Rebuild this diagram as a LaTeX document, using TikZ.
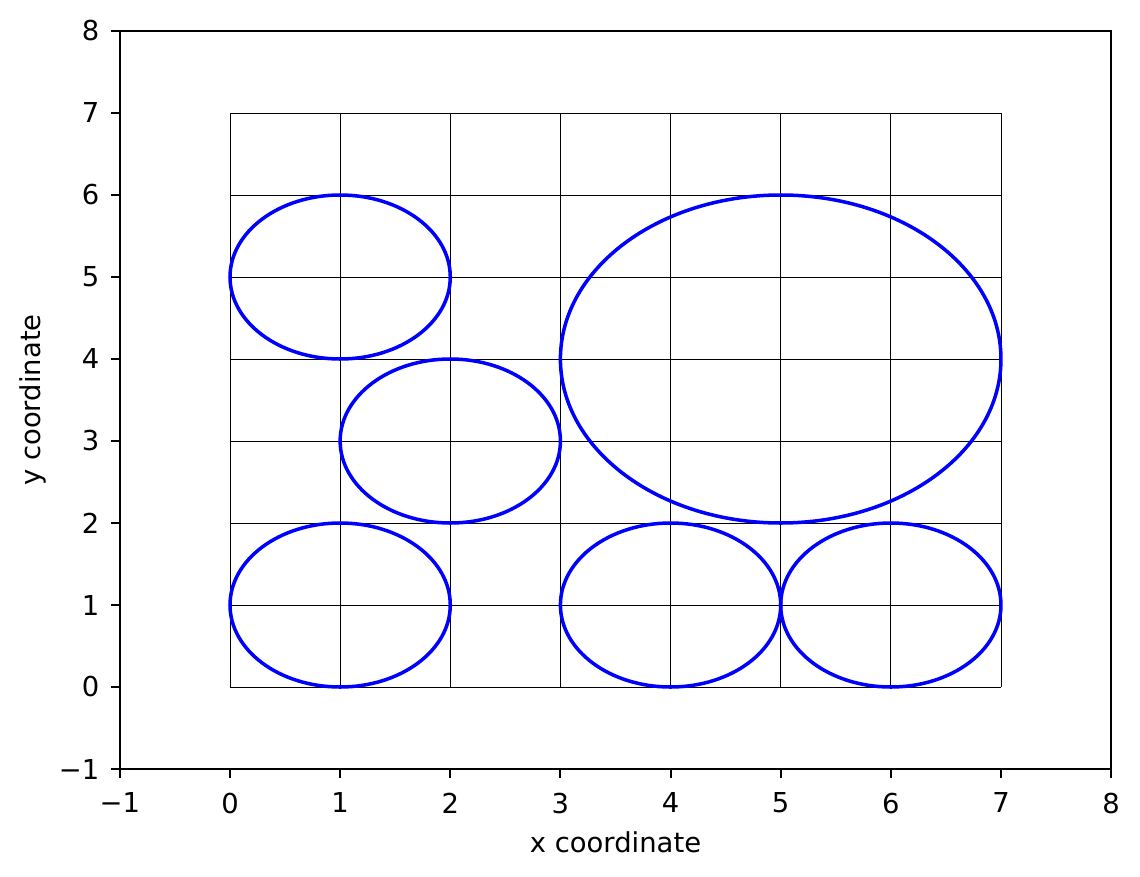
\documentclass[tikz,border=0pt]{standalone}
\usepackage{fontspec}
\setmainfont{DejaVu Sans}
\begin{document}
\begin{tikzpicture}[x=1.1014cm,y=0.82cm,
  font=\fontsize{7.8}{9}\selectfont,
  frame/.style={line width=0.57pt,black},
  gridline/.style={line width=0.2pt,black},
  circ/.style={blue,line width=1.0pt},
  xtl/.style={anchor=north,inner sep=0pt},
  ytl/.style={anchor=east,inner sep=0pt}]
\useasboundingbox (-2.0883,-2.3049) rectangle (8.2622,8.378);
% grid
\foreach \i in {0,...,7} {
  \draw[gridline] (\i,0) -- (\i,7);
  \draw[gridline] (0,\i) -- (7,\i);
}
% circles
\draw[circ] (1,5) ellipse [x radius=1.1014cm, y radius=0.82cm];
\draw[circ] (2,3) ellipse [x radius=1.1014cm, y radius=0.82cm];
\draw[circ] (1,1) ellipse [x radius=1.1014cm, y radius=0.82cm];
\draw[circ] (4,1) ellipse [x radius=1.1014cm, y radius=0.82cm];
\draw[circ] (6,1) ellipse [x radius=1.1014cm, y radius=0.82cm];
\draw[circ] (5,4) ellipse [x radius=2.2028cm, y radius=1.64cm];
% frame
\draw[frame] (-1,-1) rectangle (8,8);
% ticks
\foreach \v/\t in {-1/−1,0/0,1/1,2/2,3/3,4/4,5/5,6/6,7/7,8/8} {
  \draw[frame] (\v,-1) -- ++(0,-0.09cm);
  \node[xtl] (xt\v) at (\v,-1.28) {\t};
  \draw[frame] (-1,\v) -- ++(-0.09cm,0);
  \node[ytl] (yt\v) at (-1.18,\v) {\t};
}
\node (xlab) at (3.5,-1.89) {x coordinate};
\node[rotate=90] (ylab) at (-1.789,3.5) {y coordinate};
\end{tikzpicture}
\end{document}
